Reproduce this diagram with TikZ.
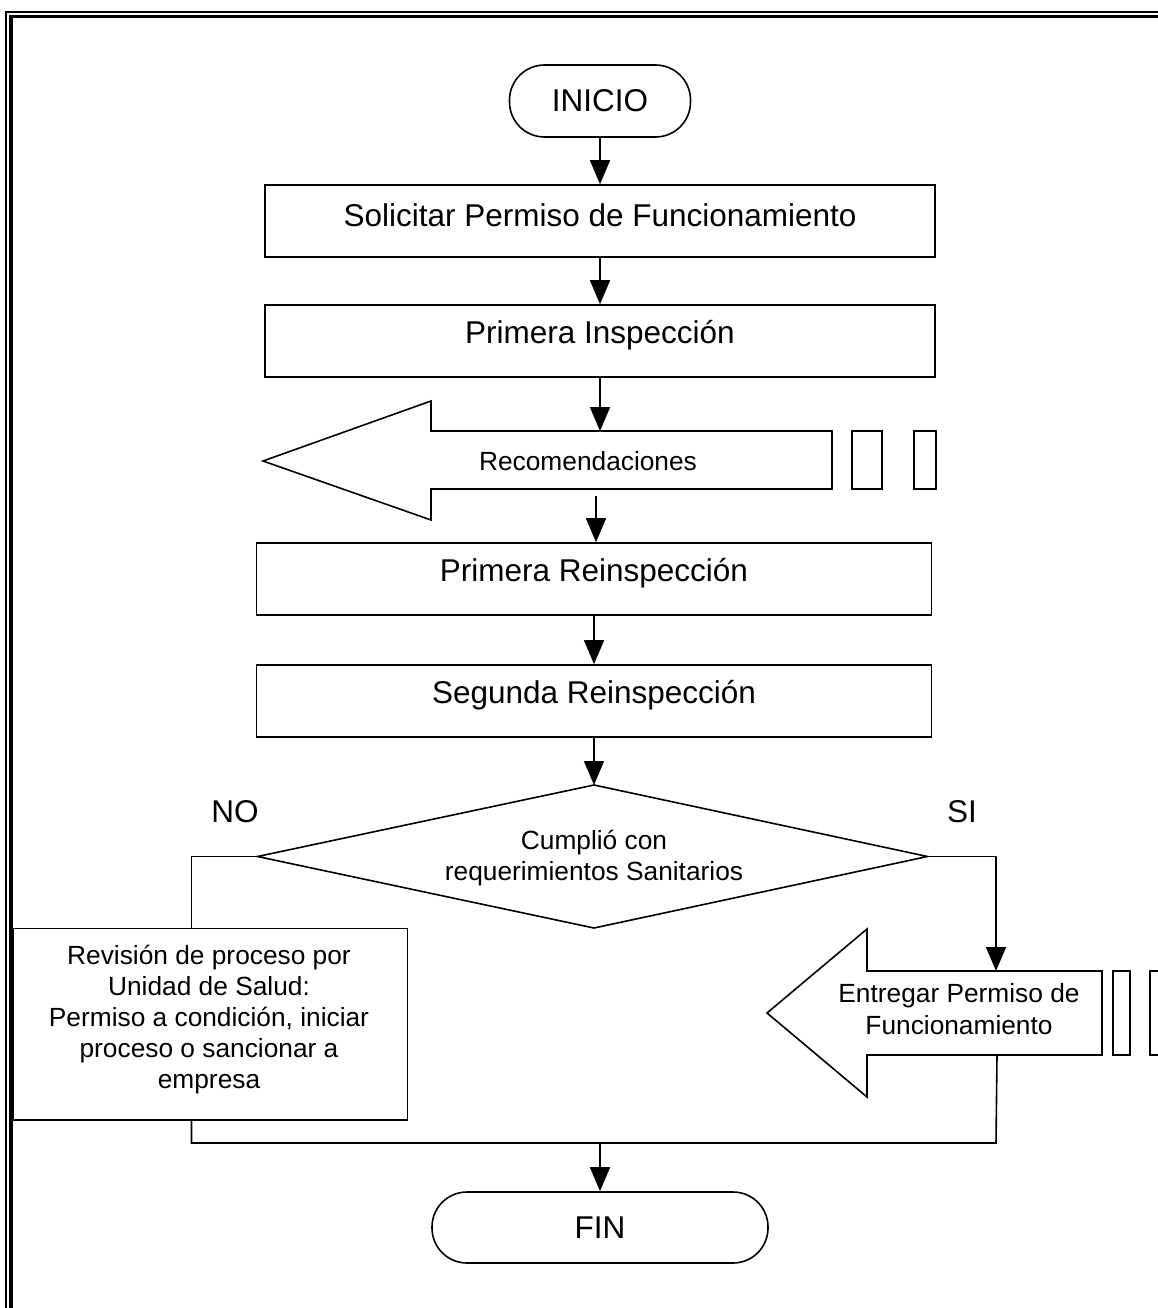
\documentclass[tikz,border=0pt]{standalone}
\usepackage{fontspec}
\setmainfont{Liberation Sans}
\usetikzlibrary{arrows.meta}

\tikzset{
  outline/.style={draw=black, line width=1.6pt},
  procbox/.style={outline, rectangle, inner sep=0pt},
  terminal/.style={outline, rectangle, rounded corners=35pt, inner sep=0pt},
  bigtext/.style={font=\fontsize{31.5}{36.2}\selectfont, inner sep=0pt, align=center},
  smalltext/.style={font=\fontsize{26.3}{31.2}\selectfont, inner sep=0pt, align=center},
  flow/.style={line width=1.6pt, -{Triangle[length=24pt,width=20pt]}},
  link/.style={line width=1.6pt},
}

\begin{document}
\begin{tikzpicture}[x=1pt,y=-1pt]
\useasboundingbox (0,0) rectangle (1158,1308);

% page frame (double rule)
\draw[line width=1.8pt] (5.8,11.8) rectangle (1175,1325);
\draw[line width=3.2pt] (11,16.7) rectangle (1170,1320);

% start / end terminals
\node[terminal, minimum width=181pt, minimum height=72pt] (inicio) at (600,101) {};
\node[bigtext] (inicioT) at (inicio.center) {INICIO};
\node[terminal, minimum width=336pt, minimum height=71pt] (fin) at (600,1227.5) {};
\node[bigtext] (finT) at (fin.center) {FIN};

% process boxes
\node[procbox, minimum width=670pt, minimum height=72pt] (solic) at (600,221) {};
\node[bigtext] (solicT) at ([yshift=-31pt]solic.north) {Solicitar Permiso de Funcionamiento};
\node[procbox, minimum width=670pt, minimum height=72pt] (insp) at (600,341) {};
\node[bigtext] (inspT) at ([yshift=-31pt]insp.north) {Primera Inspección};
\node[procbox, minimum width=675pt, minimum height=72pt] (reins1) at (594,579) {};
\node[bigtext] (reins1T) at ([yshift=-31pt]reins1.north) {Primera Reinspección};
\node[procbox, minimum width=675pt, minimum height=72pt] (reins2) at (594,701) {};
\node[bigtext] (reins2T) at ([yshift=-31pt]reins2.north) {Segunda Reinspección};

% decision
\coordinate (dtop) at (594,785);
\coordinate (dleft) at (257.5,856.5);
\coordinate (dright) at (927.5,856.5);
\coordinate (dbot) at (594,928);
\draw[outline] (dtop) -- (dright) -- (dbot) -- (dleft) -- cycle;
\node[smalltext] (decT) at (594,858) {Cumplió con\\requerimientos Sanitarios};
\node[bigtext] (noT) at (235,812) {NO};
\node[bigtext] (siT) at (962,812) {SI};

% review box (NO branch)
\node[procbox, minimum width=394.5pt, minimum height=191.5pt] (rev) at (210.25,1024.25) {};
\node[smalltext] (revT) at (209,1019.5) {Revisión de proceso por\\Unidad de Salud:\\Permiso a condición, iniciar\\proceso o sancionar a\\empresa};

% block arrow: Recomendaciones
\coordinate (recIn) at (600,431);
\coordinate (recOut) at (596,496);
\draw[outline, line join=miter] (263,461) -- (431,401) -- (431,431) -- (832,431)
  -- (832,489) -- (431,489) -- (431,520) -- cycle;
\draw[outline] (852,431) rectangle (882,489);
\draw[outline] (914,431) rectangle (936,489);
\node[smalltext] (recT) at (588,461) {Recomendaciones};

% block arrow: Entregar Permiso (SI branch)
\coordinate (entIn) at (996,971);
\coordinate (entOut) at (997,1055);
\draw[outline, line join=miter] (767,1013) -- (867,929) -- (867,971) -- (1102,971)
  -- (1102,1055) -- (867,1055) -- (867,1097) -- cycle;
\draw[outline] (1113,971) rectangle (1130,1055);
\draw[outline] (1150,971) rectangle (1167,1055);
\node[smalltext] (entT) at (959,1009) {Entregar Permiso de\\Funcionamiento};

% connectors
\coordinate (revIn) at (191.5,928.5);
\coordinate (revOut) at (191.5,1120);
\coordinate (joinL) at (191.5,1143);
\coordinate (joinR) at (996,1143);
\coordinate (merge) at (600,1143);

\draw[flow] (inicio.south) -- (solic.north);
\draw[flow] (solic.south) -- (insp.north);
\draw[flow] (insp.south) -- (recIn);
\draw[flow] (recOut) -- (reins1.north -| recOut);
\draw[flow] (reins1.south) -- (reins2.north);
\draw[flow] (reins2.south) -- (dtop);
\draw[link] (dleft) -| (revIn);
\draw[flow] (dright) -| (entIn);
\draw[link] (revOut) -- (joinL) -- (joinR) -- (entOut);
\draw[flow] (merge) -- (fin.north);
\end{tikzpicture}
\end{document}
